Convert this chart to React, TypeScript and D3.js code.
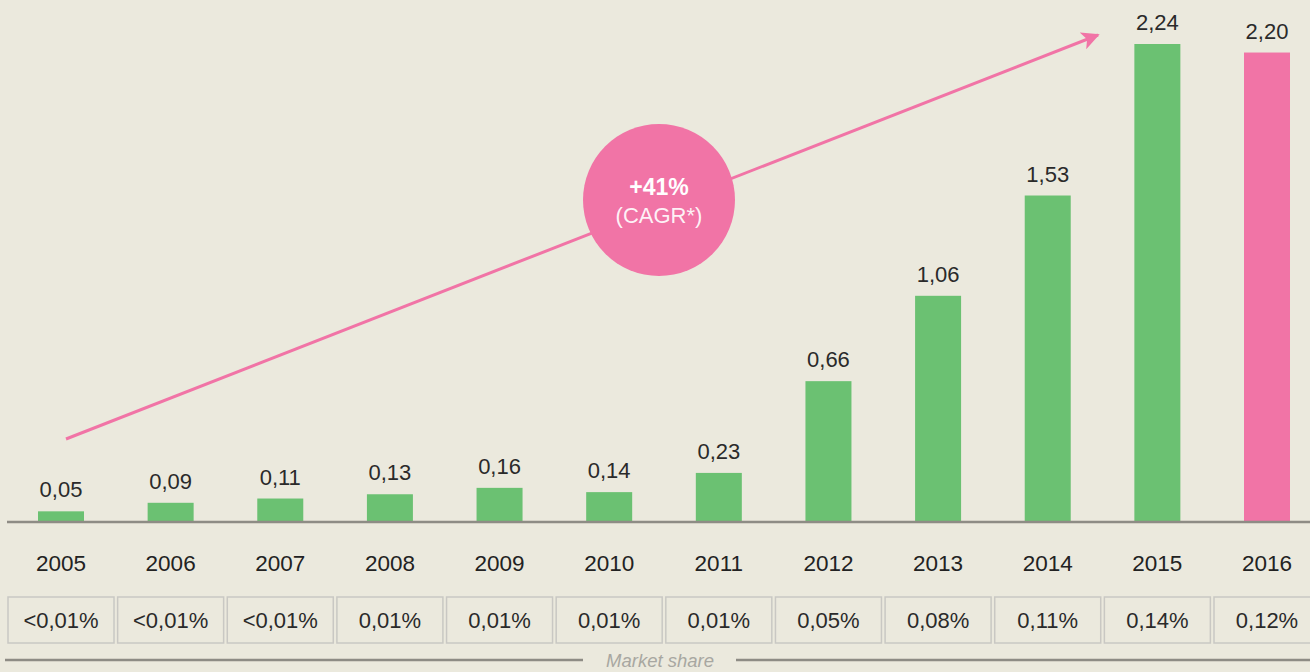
import React from "react";
import * as d3 from "d3";

const years = ["2005","2006","2007","2008","2009","2010","2011","2012","2013","2014","2015","2016"];
const values = [0.05,0.09,0.11,0.13,0.16,0.14,0.23,0.66,1.06,1.53,2.24,2.20];
const valueLabels = ["0,05","0,09","0,11","0,13","0,16","0,14","0,23","0,66","1,06","1,53","2,24","2,20"];
const shares = ["<0,01%","<0,01%","<0,01%","0,01%","0,01%","0,01%","0,01%","0,05%","0,08%","0,11%","0,14%","0,12%"];
const highlightYear = "2016";
const cagrLabel = "+41%";
const cagrSub = "(CAGR*)";
const footLabel = "Market share";

const W = 1310, H = 672;
const BG = "#ebe9dd";
const GREEN = "#6bc172";
const PINK = "#f174a6";
const FONT = "'Liberation Sans', Arial, Helvetica, sans-serif";

export default function App() {
  const x = d3.scalePoint<string>().domain(years).range([61, 1267]);
  const y = d3.scaleLinear().domain([0, 2.24]).range([522, 44]);
  const barW = 46;
  const boxW = 106;

  return (
    <svg width={W} height={H} style={{ position: "absolute", left: 0, top: 0, background: BG }} fontFamily={FONT}>
      <rect x={0} y={0} width={W} height={H} fill={BG} />
      <defs>
        <marker id="arrow" viewBox="0 0 10 10" refX="9" refY="5" markerWidth="6" markerHeight="6" markerUnits="strokeWidth" orient="auto">
          <path d="M0,0 L10,5 L0,10 L2.5,5 Z" fill={PINK} />
        </marker>
      </defs>
      {/* arrow */}
      <line x1={66} y1={439} x2={1098} y2={35} stroke={PINK} strokeWidth={3} markerEnd="url(#arrow)" />
      {/* bars */}
      {years.map((yr, i) => (
        <g key={yr}>
          <rect x={(x(yr) as number) - barW / 2} y={y(values[i])} width={barW} height={522 - y(values[i])}
            fill={yr === highlightYear ? PINK : GREEN} />
          <text x={x(yr)} y={y(values[i]) - 14} textAnchor="middle" fontSize={22} fill="#2a2a2a">{valueLabels[i]}</text>
          <text x={x(yr)} y={571} textAnchor="middle" fontSize={22.5} fill="#222">{yr}</text>
          <rect x={(x(yr) as number) - boxW / 2} y={597} width={boxW} height={46} fill={BG} stroke="#c9c8c3" strokeWidth={1.5} />
          <text x={x(yr)} y={628} textAnchor="middle" fontSize={22} fill="#2a2a2a">{shares[i]}</text>
        </g>
      ))}
      {/* baseline */}
      <line x1={7} x2={W} y1={522} y2={522} stroke="#8e8c85" strokeWidth={2.5} />
      {/* circle */}
      <circle cx={659} cy={200} r={76} fill={PINK} />
      <text x={659} y={195} textAnchor="middle" fontSize={23} fontWeight="bold" fill="#fff">{cagrLabel}</text>
      <text x={659} y={223} textAnchor="middle" fontSize={22} fill="#fff" fillOpacity={0.92}>{cagrSub}</text>
      {/* footer */}
      <line x1={5} x2={583} y1={660} y2={660} stroke="#8e8c85" strokeWidth={2.5} />
      <line x1={736} x2={W} y1={660} y2={660} stroke="#8e8c85" strokeWidth={2.5} />
      <text x={660} y={667} textAnchor="middle" fontSize={18.5} fontStyle="italic" fill="#a8a7a1">{footLabel}</text>
    </svg>
  );
}
